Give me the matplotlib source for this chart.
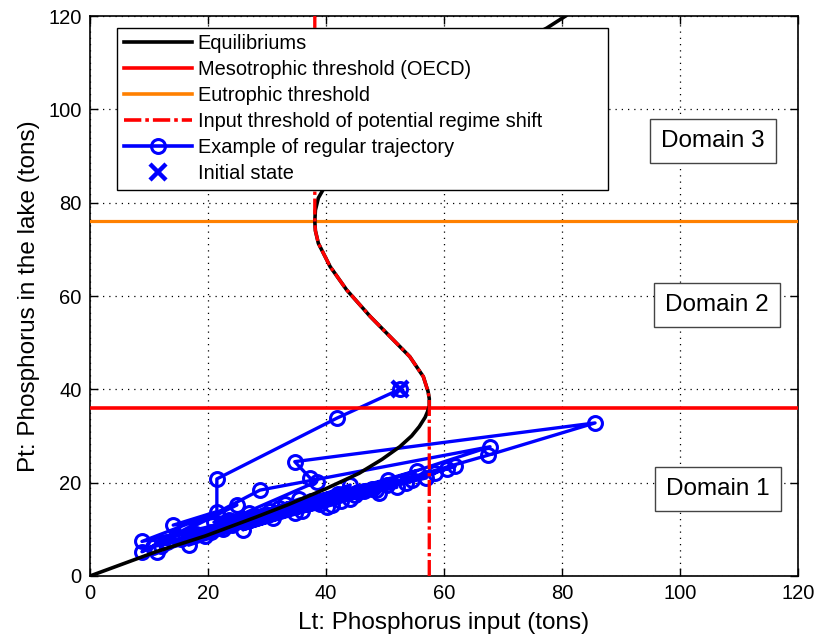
import matplotlib
matplotlib.use("Agg")
import matplotlib.pyplot as plt
from matplotlib.lines import Line2D

plt.rcParams['font.family'] = ['Liberation Sans', 'DejaVu Sans']

# Equilibrium curve (Lt, Pt)
eq_P = [0, 5.2, 8.6, 12.6, 15.3, 18.6, 22.0, 25.0, 27.7, 30.0, 32.0, 34.0, 35.2, 36.4,
        38.0, 39.5, 42.7, 47.0, 50.6, 55.6, 61.3, 66.3, 71.3, 74.0, 76.0, 78.4, 81.0,
        83.0, 86.0, 90.0, 95.0, 100.0, 105.0, 110.0, 117.4, 120.0]
eq_L = [0, 11.2, 19.6, 28.1, 33.6, 39.8, 45.6, 49.5, 52.5, 54.5, 55.8, 56.8, 57.2, 57.5,
        57.5, 57.3, 56.5, 54.2, 51.4, 47.5, 43.5, 40.7, 38.7, 38.2, 38.1, 38.2, 38.7,
        39.6, 41.0, 43.4, 47.8, 52.9, 59.0, 65.8, 77.4, 80.6]

# Thresholds
meso_P = 36.0
eutro_P = 76.0
fold_low_P = 36.4     # lower fold (max input)
fold_high_P = 76.0    # upper fold (min input)
thr_L_low = 57.5
thr_L_high = 38.1

# Regular trajectory (Lt, Pt)
traj_L = [52.5, 41.8, 21.5, 21.5, 14.1, 44.9, 8.8, 24.9, 8.8, 28.8, 67.8, 16.7, 44.1,
          11.3, 31.0, 55.4, 10.7, 41.0, 61.9, 25.9, 50.4, 23.5, 38.4, 37.3, 34.7, 85.6,
          67.5, 19.5, 34.7, 54.6, 27.5, 46.5, 20.5, 40.1, 32.0, 49.0, 29.5, 36.5, 52.0,
          26.5, 42.5, 15.5, 47.8, 13.0, 36.0, 58.5, 22.5, 44.0, 30.5, 53.5, 18.0, 39.0,
          60.5, 24.0, 48.5, 33.0, 57.0, 14.5, 37.5, 27.0, 45.5, 12.0, 35.5, 50.5, 21.0,
          42.0]
traj_P = [40.0, 33.8, 20.8, 13.8, 10.9, 17.4, 7.4, 15.2, 5.2, 18.4, 27.7, 6.6, 19.5,
          5.2, 12.4, 22.6, 6.3, 15.2, 23.5, 9.9, 19.6, 12.0, 20.2, 21.0, 24.5, 32.8,
          25.9, 8.5, 13.5, 20.5, 12.5, 18.2, 9.5, 14.8, 14.5, 17.8, 13.0, 15.5, 19.0,
          12.0, 16.0, 8.0, 18.6, 7.2, 14.0, 22.0, 10.0, 16.5, 14.0, 20.0, 9.0, 15.5,
          23.0, 11.0, 18.5, 15.5, 21.0, 8.5, 16.0, 13.5, 18.0, 6.5, 16.5, 20.5, 11.5,
          17.5]
init_L = [52.5]
init_P = [40.0]

domains = ["Domain 1", "Domain 2", "Domain 3"]
domain_L = [106.4, 106.3, 105.6]
domain_P = [18.6, 58.0, 93.2]

fig = plt.figure(figsize=(8.19, 6.38), dpi=100)
ax = fig.add_axes([0.1099, 0.0972, 0.8645, 0.8777])

dash_red = (0, (4.8, 1.1, 1.0, 1.1))

ax.plot(traj_L, traj_P, color='blue', lw=2.4, marker='o', ms=10, mfc='none',
        mec='blue', mew=2.2, zorder=3)
ax.axhline(meso_P, color='red', lw=2.6, zorder=4)
ax.axhline(eutro_P, color='#FF8000', lw=2.3, zorder=4)
ax.plot(eq_L, eq_P, color='black', lw=2.6, zorder=5, solid_joinstyle='round')

# input threshold path: vertical at lower fold, unstable branch, vertical above upper fold
th_L = [thr_L_low]
th_P = [0.0]
for l, p in zip(eq_L, eq_P):
    if fold_low_P <= p <= fold_high_P:
        th_L.append(l)
        th_P.append(p)
th_L += [thr_L_high]
th_P += [120.0]
ax.plot(th_L, th_P, color='red', lw=2.4, linestyle=dash_red, zorder=6)

ax.plot(init_L, init_P, linestyle='none', marker='x', ms=11, mew=3.2, color='blue', zorder=7)

for t, l, p in zip(domains, domain_L, domain_P):
    ax.text(l, p, t, fontsize=17.5, ha='center', va='center', zorder=8,
            bbox=dict(boxstyle='square,pad=0.45', fc='white', ec='#444444', lw=1.0))

ax.set_xlim(0, 120)
ax.set_ylim(0, 120)
ax.set_xticks(range(0, 121, 20))
ax.set_yticks(range(0, 121, 20))
ax.tick_params(direction='in', length=6, width=1, top=True, right=True,
               labelsize=14.5, pad=6)
ax.grid(True, color='black', linestyle=(0, (1, 4)), lw=0.9)
ax.set_axisbelow(True)
for s in ax.spines.values():
    s.set_linewidth(1.2)

ax.set_xlabel("Lt: Phosphorus input (tons)", fontsize=17.5, labelpad=6)
ax.set_ylabel("Pt: Phosphorus in the lake (tons)", fontsize=17.5, labelpad=6)

handles = [
    Line2D([], [], color='black', lw=2.6),
    Line2D([], [], color='red', lw=2.6),
    Line2D([], [], color='#FF8000', lw=2.6),
    Line2D([], [], color='red', lw=2.6, linestyle=dash_red),
    Line2D([], [], color='blue', lw=2.6, marker='o', ms=10, mfc='none', mew=2.2),
    Line2D([], [], color='blue', linestyle='none', marker='x', ms=11, mew=3.2),
]
labels = ["Equilibriums", "Mesotrophic threshold (OECD)", "Eutrophic threshold",
          "Input threshold of potential regime shift", "Example of regular trajectory",
          "Initial state"]
leg = ax.legend(handles, labels, loc='upper left', bbox_to_anchor=(0.038, 0.7, 0.694, 0.279),
                mode='expand', fontsize=14.4, handlelength=3.4, handletextpad=0.3,
                labelspacing=0.35, borderpad=0.33, borderaxespad=0, fancybox=False,
                framealpha=1, edgecolor='black')
leg.get_frame().set_linewidth(1.0)
leg.set_zorder(10)

fig.savefig("out.png", dpi=100)
